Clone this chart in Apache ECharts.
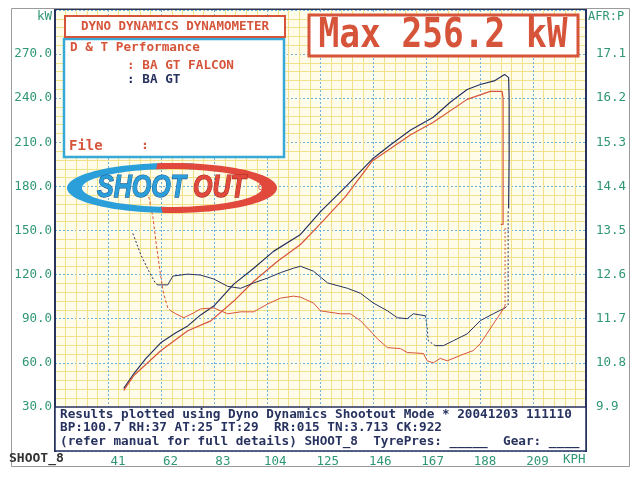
<!DOCTYPE html>
<html><head><meta charset="utf-8">
<script src="https://cdn.jsdelivr.net/npm/echarts@6/dist/echarts.min.js"></script>
<style>html,body{margin:0;padding:0;background:#fff}#c{width:640px;height:478px}</style>
</head><body><div id="c"></div><script>
// ---- data ----
const kphTicks = [41, 62, 83, 104, 125, 146, 167, 188, 209];
const bluePower = [[47.2,42.6],[51.2,52.7],[55.9,62.8],[61.8,73.6],[67.8,80.4],[72.5,85.1],[77.6,92.6],[82.8,98.6],[90.7,113.5],[98.6,124.3],[106.4,135.8],[117.1,147.3],[125.0,162.8],[134.9,179.7],[145.5,198.6],[152.6,208.1],[160.5,218.2],[169.6,227.0],[176.3,237.2],[183.0,245.9],[188.2,249.3],[194.0,252.0],[197.8,256.2],[199.4,254.0],[199.6,240.0],[199.6,200.0],[199.4,165.0]];
const redPower = [[47.2,41.2],[51.2,51.4],[61.8,68.2],[72.5,81.8],[81.6,88.5],[90.7,102.0],[98.6,115.5],[108.0,129.1],[117.1,140.5],[125.0,154.7],[134.9,173.0],[145.5,197.3],[160.5,214.9],[169.6,223.6],[183.0,239.2],[192.1,244.6],[196.8,244.6],[197.2,240.0],[197.2,154.1],[196.3,154.1]];
const blueAfrLead = [[50.8,13.44],[53.9,13.01],[57.1,12.67],[59.9,12.41],[60.7,12.39]];
const blueAfr = [[60.7,12.39],[64.6,12.39],[66.6,12.57],[72.5,12.61],[77.6,12.59],[82.8,12.51],[88.3,12.36],[93.4,12.32],[98.6,12.43],[104.1,12.53],[109.2,12.64],[114.3,12.73],[117.1,12.77],[122.2,12.67],[127.8,12.43],[135.7,12.32],[140.8,12.22],[145.9,12.02],[151.5,11.86],[155.4,11.72],[159.3,11.70],[161.7,11.80],[166.5,11.76]];
const blueAfrDrop = [[166.5,11.76],[167.2,11.51],[167.6,11.25],[170.4,11.15]];
const blueAfrTail = [[170.4,11.15],[173.6,11.15],[177.5,11.25],[183.0,11.39],[188.2,11.66],[193.3,11.80],[198.0,11.92]];
const blueAfrRise = [[198.0,11.92],[199.2,11.98],[199.2,13.9]];
const redAfrLead = [[57.1,14.19],[58.7,13.78],[59.9,13.28],[61.8,12.57],[63.0,12.20],[64.6,11.92],[65.8,11.86]];
const redAfr = [[65.8,11.86],[67.8,11.80],[70.9,11.72],[74.9,11.82],[77.6,11.90],[82.8,11.92],[88.3,11.80],[93.4,11.84],[98.6,11.84],[104.1,12.00],[109.2,12.12],[114.3,12.16],[117.1,12.14],[122.2,12.02],[125.0,11.86],[132.9,11.80],[136.8,11.80],[140.8,11.66],[144.7,11.45],[147.5,11.29],[151.5,11.11],[156.6,11.09],[159.3,11.01],[165.7,10.99],[167.2,10.84],[169.6,10.80],[172.4,10.89],[175.1,10.84],[180.3,10.95],[185.4,11.05],[188.2,11.19],[193.3,11.59],[196.1,11.80],[198.0,11.96]];
const redAfrRise = [[198.0,11.96],[198.0,13.58]];

const infoLines = [
  'Results plotted using Dyno Dynamics Shootout Mode * 20041203 111110',
  'BP:100.7 RH:37 AT:25 IT:29  RR:015 TN:3.713 CK:922',
  '(refer manual for full details) SHOOT_8  TyrePres: _____  Gear: ____'
];

// ---- style ----
const NAVY = '#27325f', RED = '#d6553a', TEAL = '#2f9676', MONO = '"DejaVu Sans Mono", "Liberation Mono", monospace';

function txt(text, x, y, font, fill, align, extra) {
  return Object.assign({type: 'text', x: x, y: y, z: 20,
    style: {text: text, font: font, fill: fill, align: align || 'left', textAlign: align || 'left', verticalAlign: 'middle', textVerticalAlign: 'middle'}}, extra || {});
}
function crescent(cx, cy, rx, ry, rx2, ry2, dx, a0, a1) {
  const pts = [], n = 60;
  for (let i = 0; i <= n; i++) { const a = (a0 + (a1 - a0) * i / n) * Math.PI / 180; pts.push([cx + rx * Math.cos(a), cy + ry * Math.sin(a)]); }
  for (let i = n; i >= 0; i--) { const a = (a0 + (a1 - a0) * i / n) * Math.PI / 180; pts.push([cx + dx + rx2 * Math.cos(a), cy + ry2 * Math.sin(a)]); }
  return pts;
}

function line(data, color, yIdx, width, type) {
  return {type: 'line', data: data, xAxisIndex: 0, yAxisIndex: yIdx, symbol: 'none', showSymbol: false,
    lineStyle: {color: color, width: width, type: type || 'solid'}, itemStyle: {color: color}, animation: false, z: 3};
}

const chart = echarts.init(document.getElementById('c'), null, {renderer: 'canvas'});
const graphics = [
  {type: 'rect', z: 1, shape: {x: 11.5, y: 8.5, width: 618, height: 458}, style: {fill: 'none', stroke: '#9b9b9b', lineWidth: 1}},
  {type: 'line', z: 15, shape: {x1: 55, y1: 9, x2: 55, y2: 452}, style: {stroke: NAVY, lineWidth: 2}},
  {type: 'line', z: 15, shape: {x1: 586, y1: 9, x2: 586, y2: 452}, style: {stroke: NAVY, lineWidth: 2}},
  {type: 'line', z: 15, shape: {x1: 55, y1: 9.5, x2: 586, y2: 9.5}, style: {stroke: NAVY, lineWidth: 1}},
  // bottom info box
  {type: 'rect', z: 15, shape: {x: 55, y: 407, width: 531, height: 44}, style: {fill: '#ffffff', stroke: NAVY, lineWidth: 1.5}},
  txt(infoLines[0], 60, 415, 'bold 12.7px ' + MONO, NAVY),
  txt(infoLines[1], 60, 428, 'bold 12.7px ' + MONO, NAVY),
  txt(infoLines[2], 60, 442, 'bold 12.7px ' + MONO, NAVY),
  // header boxes
  {type: 'rect', z: 15, shape: {x: 64, y: 39, width: 220, height: 118}, style: {fill: '#ffffff', stroke: '#36a9d6', lineWidth: 2.5}},
  {type: 'rect', z: 16, shape: {x: 65, y: 16, width: 220, height: 21}, style: {fill: '#ffffff', stroke: RED, lineWidth: 2}},
  txt('DYNO DYNAMICS DYNAMOMETER', 175, 26.5, 'bold 12.5px ' + MONO, RED, 'center'),
  txt('D & T Performance', 70, 48, 'bold 12.7px ' + MONO, RED),
  txt(': BA GT FALCON', 127, 66, 'bold 12.7px ' + MONO, RED),
  txt(': BA GT', 127, 80, 'bold 12.7px ' + MONO, NAVY),
  txt('File', 69, 146, 'bold 14px ' + MONO, RED),
  txt(':', 141, 146, 'bold 13px ' + MONO, RED),
  // max box
  {type: 'rect', z: 15, shape: {x: 309, y: 15, width: 269, height: 41}, style: {fill: '#ffffff', stroke: RED, lineWidth: 3}},
  txt('Max 256.2 kW', 443, 36, 'bold 34.5px ' + MONO, RED, 'center', {scaleY: 1.2}),
  // logo
  {type: 'polygon', z: 18, shape: {points: crescent(172, 188, 105, 25, 93, 19, 3, 94, 282)}, style: {fill: '#2b9fd9'}},
  {type: 'polygon', z: 19, shape: {points: crescent(172, 188, 105, 25, 93, 19, -3, 262, 455)}, style: {fill: '#e0493b'}},
  txt('SHOOT', 97, 188, 'italic bold 25px "Liberation Sans", Arial, sans-serif', '#2b9fd9', 'left', {scaleY: 1.25, style: {text: 'SHOOT', font: 'italic bold 25px "Liberation Sans", Arial, sans-serif', fill: '#2b9fd9', stroke: '#1c5e9a', lineWidth: 1, align: 'left', textAlign: 'left', verticalAlign: 'middle', textVerticalAlign: 'middle'}}),
  txt('OUT', 193, 188, 'italic bold 25px "Liberation Sans", Arial, sans-serif', '#e0493b', 'left', {scaleY: 1.25, style: {text: 'OUT', font: 'italic bold 25px "Liberation Sans", Arial, sans-serif', fill: '#e0493b', stroke: '#a8281e', lineWidth: 1, align: 'left', textAlign: 'left', verticalAlign: 'middle', textVerticalAlign: 'middle'}}),
  txt('04', 258, 188, '9px "Liberation Sans", Arial, sans-serif', '#e0493b'),
  // axis captions
  txt('kW', 52, 17, '12.5px ' + MONO, TEAL, 'right'),
  txt('AFR:P', 588, 17, '12px ' + MONO, TEAL, 'left'),
  txt('KPH', 563, 460, '12.5px ' + MONO, TEAL, 'left'),
  txt('SHOOT_8', 9, 459, 'bold 13px ' + MONO, '#333333', 'left')
];

const option = {
  backgroundColor: '#ffffff',
  animation: false,
  grid: {left: 55, right: 54, top: 10, bottom: 27, show: true, backgroundColor: '#fffcea', borderWidth: 0},
  xAxis: [
    {type: 'value', min: 20, max: 230, interval: 21, position: 'bottom',
      axisLine: {show: false}, axisTick: {show: false}, axisLabel: {show: false},
      splitLine: {show: true, lineStyle: {color: '#6cb4df', width: 1, type: [2, 2]}},
      minorTick: {show: false, splitNumber: 5},
      minorSplitLine: {show: true, lineStyle: {color: '#f1e18a', width: 1}}},
    {type: 'value', min: 15.77, max: 228.42, position: 'bottom',
      axisLine: {show: false}, axisTick: {show: false}, splitLine: {show: false},
      axisLabel: {show: true, customValues: kphTicks, color: TEAL, fontFamily: MONO, fontSize: 12.5, margin: 4}}
  ],
  yAxis: [
    {type: 'value', min: 0, max: 300, interval: 30, position: 'left',
      axisLine: {show: false}, axisTick: {show: false},
      axisLabel: {color: TEAL, fontFamily: MONO, fontSize: 12.5, margin: 3, showMinLabel: false, showMaxLabel: false,
        formatter: v => v.toFixed(1)},
      splitLine: {show: true, lineStyle: {color: '#6cb4df', width: 1, type: [2, 2]}},
      minorTick: {show: false, splitNumber: 5},
      minorSplitLine: {show: true, lineStyle: {color: '#f1e18a', width: 1}}},
    {type: 'value', min: 9, max: 18, interval: 0.9, position: 'right',
      axisLine: {show: false}, axisTick: {show: false}, splitLine: {show: false},
      axisLabel: {color: TEAL, fontFamily: MONO, fontSize: 12.5, margin: 10, showMinLabel: false, showMaxLabel: false,
        formatter: v => v.toFixed(1)}}
  ],
  series: [
    line(bluePower, NAVY, 0, 1.2),
    line(redPower, RED, 0, 1.2),
    line(blueAfrLead, NAVY, 1, 1, [2, 2]),
    line(blueAfr, NAVY, 1, 1),
    line(blueAfrDrop, NAVY, 1, 1, [2, 2]),
    line(blueAfrTail, NAVY, 1, 1),
    line(blueAfrRise, NAVY, 1, 1, [2, 2]),
    line(redAfrLead, RED, 1, 1, [3, 2]),
    line(redAfr, RED, 1, 1),
    line(redAfrRise, RED, 1, 1, [2, 2])
  ],
  graphic: {elements: graphics}
};
chart.setOption(option);
</script></body></html>
